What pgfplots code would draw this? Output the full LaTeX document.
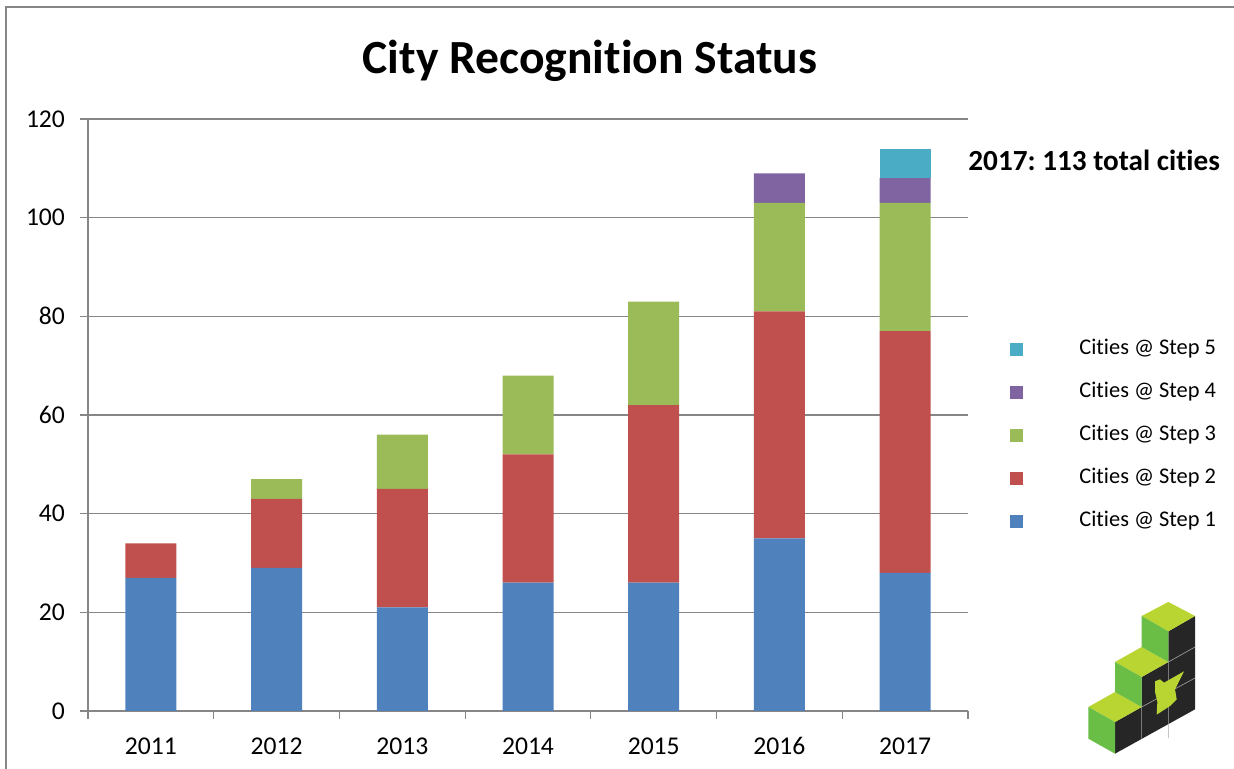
\documentclass[border=0pt]{standalone}
\usepackage{pgfplots}
\pgfplotsset{compat=1.18}
\usepackage{fontspec}
\setmainfont{Carlito}[Ligatures={NoCommon,NoContextual,NoRequired}, Contextuals=NoAlternate]
\definecolor{s1}{HTML}{4F81BD}
\definecolor{s2}{HTML}{C0504D}
\definecolor{s3}{HTML}{9BBB59}
\definecolor{s4}{HTML}{8064A2}
\definecolor{s5}{HTML}{4BACC6}
\definecolor{gridgray}{HTML}{868686}
\definecolor{lime}{HTML}{B9D531}
\definecolor{leaf}{HTML}{6ABD45}
\definecolor{dark}{HTML}{262626}
\frenchspacing
\begin{document}
\begin{tikzpicture}
\useasboundingbox (0,0) rectangle (617pt,384.5pt);
\begin{scope}[x=0.5pt,y=0.5pt]
\draw[gridgray, line width=1.1pt] (6,0) -- (6,762) -- (1234,762);
\node[font=\fontsize{23.8}{28}\selectfont\bfseries] at (590,708) {City Recognition Status};
\node[font=\fontsize{14.6}{17}\selectfont\bfseries, anchor=west, inner sep=0pt] at (968,609) {2017: 113 total cities};
\end{scope}
\begin{axis}[
  at={(44pt,29pt)}, anchor=south west,
  width=440pt, height=296pt, scale only axis,
  ybar stacked, bar width=25.5pt,
  xmin=-0.5, xmax=6.5, ymin=0, ymax=120,
  xtick={0,...,6},
  xticklabels={2011,2012,2013,2014,2015,2016,2017},
  minor xtick={-0.5,0.5,...,6.5},
  ytick={0,20,...,120},
  axis x line*=bottom, axis y line*=left,
  axis line style={gridgray, line width=0.6pt},
  tick align=outside,
  major x tick style={draw=none},
  minor x tick style={gridgray, line width=0.6pt},
  major y tick style={gridgray, line width=0.6pt},
  major tick length=4pt, minor tick length=4pt,
  ymajorgrids, grid style={gridgray, line width=0.6pt},
  tick label style={font=\fontsize{12.8}{15}\selectfont},
  /pgf/number format/assume math mode=true,
  xticklabel style={yshift=-5pt, text height=9pt, text depth=0pt},
  yticklabel style={xshift=-4pt},
  reverse legend,
  legend image code/.code={\fill[#1,draw=none] (0pt,-3.25pt) rectangle (6.5pt,3.25pt); \path[draw=none,fill=none] (0pt,0pt) -- (34.5pt,0pt);},
  legend style={at={(1.0477,0.6300)}, anchor=north west, draw=none, fill=none,
    font=\fontsize{11.2}{13}\selectfont, row sep=10.5pt, inner sep=0pt,
    nodes={inner sep=0pt, text height=8pt, text depth=3pt}},
  legend cell align=left,
]
\addplot[fill=s1, draw=none] coordinates {(0,27) (1,29) (2,21) (3,26) (4,26) (5,35) (6,28)};
\addplot[fill=s2, draw=none] coordinates {(0,7) (1,14) (2,24) (3,26) (4,36) (5,46) (6,49)};
\addplot[fill=s3, draw=none] coordinates {(0,0) (1,4) (2,11) (3,16) (4,21) (5,22) (6,26)};
\addplot[fill=s4, draw=none] coordinates {(0,0) (1,0) (2,0) (3,0) (4,0) (5,6) (6,5)};
\addplot[fill=s5, draw=none] coordinates {(0,0) (1,0) (2,0) (3,0) (4,0) (5,0) (6,6)};
\legend{Cities @ Step 1, Cities @ Step 2, Cities @ Step 3, Cities @ Step 4, Cities @ Step 5}
\end{axis}
\begin{scope}[shift={(530pt,88.5pt)}, x=0.16667pt, y=-0.16667pt]
\fill[dark] (165,485) -- (165,390) -- (245,345) -- (245,255) -- (325,210) -- (325,118) -- (405,72) -- (405,352) -- cycle;
\draw[gray!70, line width=0.3pt] (325,210) -- (325,438) (245,345) -- (245,440) (245,345) -- (405,258) (325,210) -- (405,165);
\fill[lime] (285,268) -- (300,262) -- (312,272) -- (330,262) -- (372,238) -- (356,270) -- (345,292) -- (350,322) -- (330,342) -- (290,368) -- (292,330) -- (285,300) -- cycle;
\fill[lime] (245,72) -- (325,30) -- (405,72) -- (325,118) -- cycle;
\fill[lime] (165,210) -- (245,165) -- (325,210) -- (245,255) -- cycle;
\fill[lime] (85,345) -- (165,300) -- (245,345) -- (165,390) -- cycle;
\fill[leaf] (245,72) -- (325,118) -- (325,210) -- (245,165) -- cycle;
\fill[leaf] (165,210) -- (245,255) -- (245,345) -- (165,300) -- cycle;
\fill[leaf] (85,345) -- (165,390) -- (165,485) -- (85,440) -- cycle;
\end{scope}
\end{tikzpicture}
\end{document}
